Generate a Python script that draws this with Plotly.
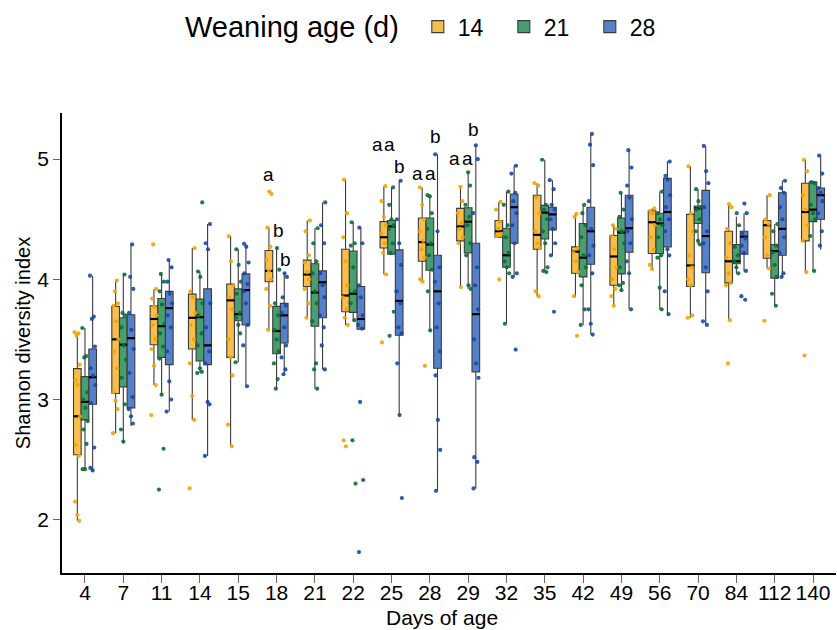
import plotly.graph_objects as go

days = ["4", "7", "11", "14", "15", "18", "21", "22", "25", "28", "29", "32", "35", "42", "49", "56", "70", "84", "112", "140"]
groups = ["14", "21", "28"]

# box statistics per weaning group
q1_14 = [2.54, 3.05, 3.455, 3.42, 3.35, 3.98, 3.94, 3.73, 4.26, 4.15, 4.32, 4.35, 4.25, 4.05, 3.95, 4.215, 3.94, 3.97, 4.175, 4.32]
med_14 = [2.86, 3.50, 3.67, 3.68, 3.825, 4.07, 4.04, 3.865, 4.35, 4.31, 4.44, 4.40, 4.37, 4.23, 4.19, 4.475, 4.115, 4.15, 4.45, 4.56]
q3_14 = [3.257, 3.775, 3.78, 3.877, 3.96, 4.24, 4.16, 4.25, 4.48, 4.51, 4.59, 4.49, 4.70, 4.27, 4.365, 4.57, 4.54, 4.40, 4.49, 4.80]
lo_14 = [1.99, 2.72, 3.12, 2.83, 2.61, 3.58, 3.68, 3.62, 4.04, 3.98, 3.935, 4.35, 3.86, 3.85, 3.78, 4.085, 3.68, 3.66, 4.09, 4.05]
hi_14 = [3.556, 3.995, 3.92, 4.26, 4.36, 4.43, 4.49, 4.83, 4.775, 4.765, 4.77, 4.645, 4.80, 4.545, 4.45, 4.59, 4.94, 4.625, 4.70, 4.995]

q1_21 = [2.83, 3.105, 3.35, 3.32, 3.655, 3.38, 3.61, 3.725, 4.21, 4.075, 4.22, 4.10, 4.335, 4.02, 4.045, 4.215, 4.465, 4.13, 4.01, 4.48]
med_21 = [2.98, 3.456, 3.61, 3.685, 3.71, 3.57, 3.89, 3.88, 4.44, 4.29, 4.48, 4.20, 4.555, 4.18, 4.39, 4.465, 4.59, 4.15, 4.235, 4.58]
q3_21 = [3.19, 3.68, 3.84, 3.835, 3.92, 3.775, 4.13, 4.235, 4.49, 4.51, 4.595, 4.425, 4.615, 4.465, 4.51, 4.55, 4.61, 4.29, 4.29, 4.81]
lo_21 = [2.42, 2.635, 3.04, 3.22, 3.31, 3.09, 3.09, 3.655, 4.21, 3.575, 3.92, 3.63, 4.06, 3.62, 3.91, 3.75, 4.29, 4.05, 3.78, 4.065]
hi_21 = [3.595, 4.04, 4.045, 4.065, 4.25, 4.26, 4.425, 4.475, 4.765, 4.70, 4.89, 4.73, 4.995, 4.62, 4.72, 4.73, 4.75, 4.52, 4.46, 4.81]

q1_28 = [2.96, 2.93, 3.29, 3.29, 3.62, 3.47, 3.68, 3.585, 3.535, 3.26, 3.23, 4.30, 4.41, 4.125, 4.225, 4.27, 4.055, 4.21, 4.20, 4.50]
med_28 = [3.185, 3.51, 3.76, 3.45, 3.91, 3.70, 3.975, 3.67, 3.82, 3.90, 3.71, 4.60, 4.54, 4.40, 4.425, 4.56, 4.36, 4.355, 4.42, 4.70]
q3_28 = [3.42, 3.705, 3.90, 3.92, 4.045, 3.80, 4.07, 3.94, 4.245, 4.20, 4.30, 4.71, 4.60, 4.60, 4.70, 4.84, 4.74, 4.40, 4.72, 4.76]
lo_28 = [2.405, 2.78, 2.90, 2.53, 3.11, 3.21, 3.25, 3.585, 2.87, 2.24, 2.26, 4.02, 4.20, 3.54, 3.75, 3.71, 3.62, 4.065, 4.015, 4.245]
hi_28 = [4.03, 4.29, 4.16, 4.46, 4.295, 4.05, 4.64, 4.43, 4.82, 5.04, 5.115, 4.945, 4.825, 5.21, 5.075, 4.98, 5.11, 4.55, 4.82, 5.03]

# individual samples
pts_14 = [
    [3.56, 3.55, 3.53, 3.29, 3.16, 3.12, 2.86, 2.62, 2.53, 2.15, 2.04, 1.99],
    [3.99, 3.90, 3.80, 3.78, 3.65, 3.50, 3.40, 3.26, 3.06, 2.99, 2.92, 2.72],
    [4.29, 3.92, 3.84, 3.77, 3.70, 3.62, 3.50, 3.42, 3.28, 3.12, 2.87],
    [4.26, 3.90, 3.85, 3.72, 3.62, 3.50, 3.30, 3.03, 2.83, 2.26],
    [4.36, 4.15, 3.95, 3.85, 3.75, 3.50, 3.35, 3.20, 2.79, 2.61],
    [4.73, 4.71, 4.43, 4.27, 4.16, 4.07, 4.00, 3.92, 3.78, 3.58],
    [4.49, 4.40, 4.20, 4.14, 4.06, 4.00, 3.92, 3.80, 3.68],
    [4.83, 4.55, 4.35, 4.15, 3.95, 3.85, 3.75, 3.68, 3.62, 2.66, 2.61],
    [4.775, 4.65, 4.52, 4.45, 4.38, 4.30, 4.22, 4.04, 3.475],
    [4.765, 4.62, 4.50, 4.40, 4.32, 4.25, 4.18, 4.00, 3.98, 3.28],
    [4.77, 4.65, 4.55, 4.47, 4.42, 4.35, 4.30, 3.935],
    [4.645, 4.58, 4.48, 4.42, 4.38, 4.36, 4.00],
    [4.80, 4.78, 4.68, 4.55, 4.40, 4.30, 4.26, 3.90, 3.86],
    [4.545, 4.52, 4.26, 4.22, 4.15, 4.06, 3.86, 3.53],
    [4.45, 4.42, 4.36, 4.25, 4.10, 4.00, 3.92, 3.86, 3.78],
    [4.59, 4.57, 4.55, 4.45, 4.35, 4.25, 4.12, 4.085],
    [4.94, 4.55, 4.40, 4.20, 4.10, 4.00, 3.95, 3.70, 3.68],
    [4.625, 4.60, 4.42, 4.30, 4.18, 4.05, 3.97, 3.95, 3.66, 3.30],
    [4.70, 4.50, 4.46, 4.35, 4.20, 4.09, 3.655],
    [4.995, 4.90, 4.70, 4.58, 4.45, 4.32, 4.06, 3.365],
]
pts_21 = [
    [3.595, 3.36, 3.35, 3.06, 3.00, 2.93, 2.82, 2.75, 2.63, 2.42, 2.42],
    [4.04, 3.72, 3.70, 3.60, 3.45, 3.33, 3.18, 2.96, 2.75, 2.65],
    [4.045, 3.98, 3.90, 3.79, 3.63, 3.55, 3.44, 3.34, 3.04, 2.59, 2.25],
    [4.64, 4.065, 4.02, 3.80, 3.70, 3.55, 3.45, 3.26, 3.23, 3.22],
    [4.25, 4.12, 3.98, 3.88, 3.72, 3.68, 3.62, 3.55, 3.31],
    [4.26, 4.08, 3.80, 3.70, 3.58, 3.50, 3.40, 3.30, 3.17, 3.09],
    [4.425, 4.30, 4.15, 4.05, 3.90, 3.80, 3.65, 3.30, 3.25, 3.09],
    [4.475, 4.30, 4.28, 4.10, 3.90, 3.80, 3.66, 2.66, 2.30],
    [4.765, 4.62, 4.50, 4.45, 4.42, 4.30, 4.22, 3.73, 3.53],
    [4.70, 4.69, 4.55, 4.42, 4.30, 4.20, 4.08, 3.90, 3.575],
    [4.89, 4.78, 4.62, 4.52, 4.45, 4.30, 4.20, 3.95, 3.92],
    [4.73, 4.62, 4.45, 4.35, 4.22, 4.15, 4.10, 4.05, 3.63],
    [4.995, 4.62, 4.58, 4.50, 4.40, 4.30, 4.10, 4.07, 4.06],
    [4.62, 4.55, 4.45, 4.35, 4.20, 4.10, 3.95, 3.75, 3.62],
    [4.72, 4.58, 4.52, 4.40, 4.30, 4.10, 3.97, 3.95, 3.91],
    [4.73, 4.55, 4.50, 4.45, 4.35, 4.20, 4.18, 3.93, 3.75],
    [4.75, 4.65, 4.60, 4.58, 4.50, 4.40, 4.32, 4.29],
    [4.55, 4.45, 4.27, 4.20, 4.15, 4.10, 4.05],
    [4.46, 4.40, 4.28, 4.22, 4.12, 4.02, 3.88, 3.78],
    [4.81, 4.80, 4.62, 4.55, 4.50, 4.36, 4.07],
]
pts_28 = [
    [4.03, 3.69, 3.67, 3.44, 3.26, 3.20, 3.12, 2.97, 2.60, 2.43, 2.41],
    [4.29, 4.02, 3.92, 3.72, 3.58, 3.42, 3.22, 3.02, 2.92, 2.86, 2.80],
    [4.16, 4.10, 3.98, 3.88, 3.80, 3.70, 3.60, 3.40, 3.15, 3.00, 2.90],
    [4.46, 4.30, 4.25, 3.80, 3.60, 3.40, 3.30, 2.98, 2.96, 2.53],
    [4.295, 4.27, 4.14, 4.05, 3.96, 3.90, 3.80, 3.62, 3.45, 3.11],
    [4.05, 4.02, 3.85, 3.78, 3.72, 3.60, 3.45, 3.35, 3.25, 3.21],
    [4.64, 4.45, 4.30, 4.05, 3.95, 3.85, 3.70, 3.60, 3.45, 3.25],
    [4.43, 4.30, 3.95, 3.85, 3.70, 3.62, 3.59, 2.98, 2.33, 1.73],
    [4.82, 4.50, 4.30, 4.12, 3.90, 3.80, 3.60, 3.55, 3.30, 2.87, 2.18],
    [5.04, 4.40, 4.10, 3.98, 3.80, 3.60, 3.40, 3.20, 2.83, 2.58, 2.24],
    [5.115, 5.00, 4.55, 4.10, 3.95, 3.75, 3.50, 3.30, 3.18, 2.52, 2.48, 2.26],
    [4.945, 4.88, 4.72, 4.65, 4.55, 4.45, 4.30, 4.05, 4.02, 3.415],
    [4.825, 4.75, 4.62, 4.58, 4.50, 4.42, 4.30, 4.20, 3.73],
    [5.21, 5.12, 4.95, 4.65, 4.42, 4.28, 4.20, 4.05, 3.75, 3.63, 3.54],
    [5.075, 4.93, 4.78, 4.68, 4.50, 4.40, 4.30, 4.15, 4.05, 3.75],
    [4.98, 4.86, 4.83, 4.70, 4.60, 4.50, 4.40, 4.25, 4.20, 3.90, 3.71],
    [5.11, 4.90, 4.80, 4.60, 4.40, 4.30, 4.10, 3.90, 3.65, 3.62],
    [4.63, 4.55, 4.38, 4.34, 4.28, 4.22, 4.07, 3.86, 3.83],
    [4.82, 4.76, 4.72, 4.60, 4.50, 4.35, 4.22, 4.05, 4.02],
    [5.03, 4.88, 4.76, 4.72, 4.65, 4.55, 4.40, 4.28],
]

# significance letters: day, x offset, y (baseline), text
sig_day = ["18", "18", "18", "25", "25", "25", "28", "28", "28", "29", "29", "29"]
sig_dx = [-0.2, 0.04, 0.24, -0.37, -0.05, 0.22, -0.33, 0.02, 0.15, -0.35, -0.02, 0.13]
sig_y = [4.815, 4.346, 4.106, 5.063, 5.063, 4.884, 4.823, 4.823, 5.132, 4.945, 4.945, 5.187]
sig_txt = ["a", "b", "b", "a", "a", "b", "a", "a", "b", "a", "a", "b"]

box_fill = ["rgba(246,185,62,0.92)", "rgba(55,150,98,0.92)", "rgba(72,118,196,0.92)"]
dot_col = ["#F2A400", "#0C6B38", "#1B47A3"]
offsets = [-0.2, 0.0, 0.2]
jit = [-0.07, 0.03, -0.02, 0.06, -0.05, 0.01, 0.07, -0.04, 0.04, -0.06, 0.0, 0.05]

stats = [
    (q1_14, med_14, q3_14, lo_14, hi_14, pts_14),
    (q1_21, med_21, q3_21, lo_21, hi_21, pts_21),
    (q1_28, med_28, q3_28, lo_28, hi_28, pts_28),
]

REG = "Liberation Sans, Arial, sans-serif"

fig = go.Figure()
idx = list(range(len(days)))
for g, (q1, md, q3, lo, hi, pts) in enumerate(stats):
    xs = [i + offsets[g] for i in idx]
    fig.add_trace(go.Box(
        x=xs, q1=q1, median=md, q3=q3, lowerfence=lo, upperfence=hi,
        width=0.2, whiskerwidth=0, name=groups[g], fillcolor=box_fill[g],
        line=dict(color="#3c3c3c", width=1.1), boxpoints=False,
        hoverinfo="skip", showlegend=True,
    ))
for g, (q1, md, q3, lo, hi, pts) in enumerate(stats):
    mx, my = [], []
    for i in idx:
        c = i + offsets[g]
        mx += [c - 0.1, c + 0.1, None]
        my += [md[i], md[i], None]
    fig.add_trace(go.Scatter(x=mx, y=my, mode="lines", line=dict(color="black", width=2.2),
                             showlegend=False, hoverinfo="skip"))
for g, (q1, md, q3, lo, hi, pts) in enumerate(stats):
    px, py = [], []
    for i in idx:
        c = i + offsets[g]
        for k, v in enumerate(pts[i]):
            px.append(c + jit[(k + i) % len(jit)])
            py.append(v)
    fig.add_trace(go.Scatter(x=px, y=py, mode="markers",
                             marker=dict(color=dot_col[g], size=4.2, opacity=0.9),
                             showlegend=False, hoverinfo="skip"))

for d, dx, y, t in zip(sig_day, sig_dx, sig_y, sig_txt):
    fig.add_annotation(x=days.index(d) + dx, y=y, text=t, showarrow=False,
                       yanchor="bottom", yshift=-5.5,
                       font=dict(size=19, color="black", family=REG))

# legend title and x-axis title as annotations
fig.add_annotation(xref="paper", yref="paper", x=0.1569, y=1.1876, xanchor="left", yanchor="middle",
                   text="Weaning age (d)", showarrow=False, font=dict(size=29, color="black", family=REG))
fig.add_annotation(xref="paper", yref="paper", x=0.4915, y=-0.097, xanchor="center", yanchor="middle",
                   text="Days of age", showarrow=False, font=dict(size=21, color="black", family=REG))

fig.update_layout(
    width=837, height=630,
    margin=dict(l=61.5, r=1, t=113.3, b=56.7),
    plot_bgcolor="white", paper_bgcolor="white",
    font=dict(family=REG, color="black"),
    boxmode="overlay",
    legend=dict(orientation="h", x=0.4597, y=1.1876, xanchor="left", yanchor="middle",
                font=dict(size=23), traceorder="normal", entrywidth=41, entrywidthmode="pixels"),
    xaxis=dict(range=[-0.6, 19.6], tickvals=idx, ticktext=days, showgrid=False, automargin=False,
               zeroline=False, showline=True, linecolor="black", linewidth=1.6, tickangle=0,
               ticks="outside", ticklen=8, tickcolor="#666", tickwidth=1, ticklabelstandoff=-8,
               tickfont=dict(size=21, family=REG)),
    yaxis=dict(range=[1.556, 5.384], tickvals=[2, 3, 4, 5], showgrid=False, automargin=False,
               zeroline=False, showline=True, linecolor="black", linewidth=1.6,
               ticks="outside", ticklen=7, tickcolor="#666", tickwidth=1,
               tickfont=dict(size=21), title=dict(text="Shannon diversity index", font=dict(size=20), standoff=1)),
)
fig.write_html("out.html")
